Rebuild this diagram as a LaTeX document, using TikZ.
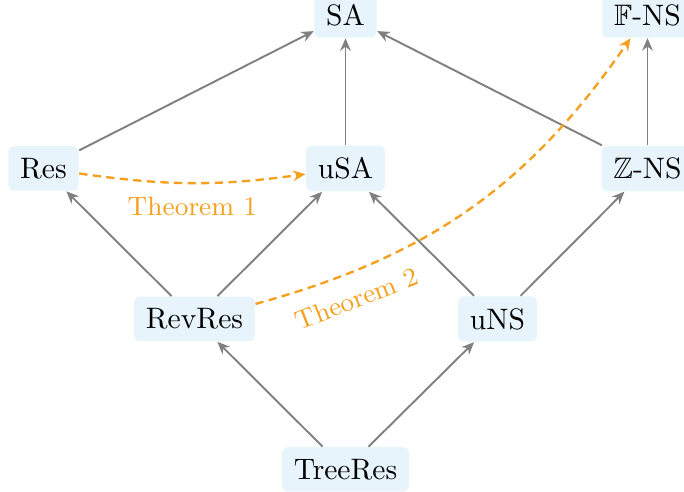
\documentclass[tikz,border=0pt]{standalone}
\usepackage{amssymb}
\usetikzlibrary{arrows.meta}
\definecolor{nodefill}{RGB}{232,244,251}
\definecolor{edgegray}{RGB}{128,128,128}
\definecolor{thmorange}{RGB}{245,160,30}
\begin{document}
\begin{tikzpicture}[x=0.338pt,y=0.338pt,
  cls/.style={fill=nodefill, rounded corners=2pt, inner sep=4pt},
  impl/.style={draw=edgegray, line width=0.65pt, -{Stealth[length=4.2pt,width=3.6pt]}},
  thm/.style={draw=thmorange, line width=0.8pt, dash pattern=on 2.8pt off 1.8pt,
    -{Stealth[length=4.2pt,width=3.6pt]}},
  thmlabel/.style={text=thmorange, font=\small}]
\useasboundingbox (0,0) rectangle (684,492);
\node[cls] (SA) at (345.5,477) {SA};
\node[cls] (FNS) at (647.5,477) {$\mathbb{F}$-NS};
\node[cls] (Res) at (43.5,323.5) {Res};
\node[cls] (uSA) at (345.5,323.5) {uSA};
\node[cls] (ZNS) at (647.5,323.5) {$\mathbb{Z}$-NS};
\node[cls] (RevRes) at (194.5,173) {RevRes};
\node[cls] (uNS) at (497.5,173) {uNS};
\node[cls] (TreeRes) at (345.5,22.5) {TreeRes};
\draw[impl] (Res) -- (SA);
\draw[impl] (uSA) -- (SA);
\draw[impl] (ZNS) -- (SA);
\draw[impl] (ZNS) -- (FNS);
\draw[impl] (RevRes) -- (Res);
\draw[impl] (RevRes) -- (uSA);
\draw[impl] (uNS) -- (uSA);
\draw[impl] (uNS) -- (ZNS);
\draw[impl] (TreeRes) -- (RevRes);
\draw[impl] (TreeRes) -- (uNS);
\draw[thm] (Res) to[bend right=8] node[thmlabel, below=1pt] {Theorem 1} (uSA);
\draw[thm] (RevRes) to[bend right=20] node[thmlabel, sloped, below=2pt, pos=0.19] {Theorem 2} (FNS);
\end{tikzpicture}
\end{document}
